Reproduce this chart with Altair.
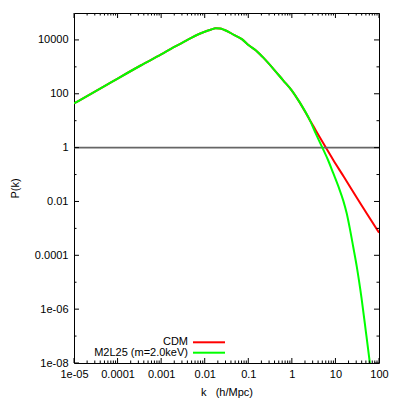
import altair as alt
import pandas as pd

# ---- values (log10 k, log10 P) ----
shared_logk = [-5.0, -4.24, -3.47, -3.0, -2.71, -2.5, -2.32, -2.13, -1.94, -1.85, -1.75, -1.65, -1.56,
               -1.33, -1.14, -0.99, -0.83, -0.72, -0.66, -0.41, -0.20, 0.0, 0.18, 0.41]
shared_logP = [1.64, 2.34, 3.05, 3.46, 3.73, 3.91, 4.07, 4.22, 4.34, 4.39, 4.43, 4.42, 4.38,
               4.19, 4.02, 3.80, 3.62, 3.45, 3.35, 2.90, 2.50, 2.12, 1.68, 1.03]
cdm_tail_logk = [0.55, 0.78, 0.95, 1.2, 1.52, 2.0]
cdm_tail_logP = [0.64, 0.0, -0.46, -1.1, -1.94, -3.16]
wdm_tail_logk = [0.55, 0.70, 0.83, 0.95, 1.07, 1.18, 1.26, 1.33, 1.41, 1.49, 1.60, 1.70, 1.79, 1.85]
wdm_tail_logP = [0.52, 0.0, -0.46, -0.95, -1.45, -1.97, -2.45, -3.0, -3.7, -4.42, -5.6, -6.85, -8.0, -8.8]

series = ["CDM", "M2L25 (m=2.0keV)"]
series_colors = ["#ff0000", "#00ff00"]

x_tick_values = [1e-05, 1e-04, 1e-03, 1e-02, 1e-01, 1, 10, 100]
x_tick_labels = ["1e-05", "0.0001", "0.001", "0.01", "0.1", "1", "10", "100"]
x_minor_mult = [2, 3, 4, 5, 6, 7, 8, 9]
y_tick_values = [1e-08, 1e-06, 1e-04, 1e-02, 1, 100, 10000]
y_tick_labels = ["1e-08", "1e-06", "0.0001", "0.01", "1", "100", "10000"]
y_minor_values = [1e-07, 1e-05, 1e-03, 1e-01, 10, 1000]

W, H = 305, 350
XDOM = [1e-05, 100]
YDOM = [1e-08, 1e05]

cdm = pd.DataFrame({
    "k": [10 ** v for v in shared_logk + cdm_tail_logk],
    "P": [10 ** v for v in shared_logP + cdm_tail_logP],
})
wdm = pd.DataFrame({
    "k": [10 ** v for v in shared_logk + wdm_tail_logk],
    "P": [10 ** v for v in shared_logP + wdm_tail_logP],
})

xs = alt.Scale(type="log", domain=XDOM, nice=False)
ys = alt.Scale(type="log", domain=YDOM, nice=False)


def js_list(vals):
    return "[" + ",".join(repr(v) if not isinstance(v, str) else "'" + v + "'" for v in vals) + "]"


x_label_expr = f"{js_list(x_tick_labels)}[indexof({js_list(x_tick_values)}, datum.value)]"
y_label_expr = f"{js_list(y_tick_labels)}[indexof({js_list(y_tick_values)}, datum.value)]"

x_axis = alt.Axis(values=x_tick_values, labelExpr=x_label_expr, title="k\u00a0\u00a0\u00a0(h/Mpc)",
                  labelPadding=5, titleBaseline="middle", titleY=29,
                  labelOverlap=False, labelFlush=False)
y_axis = alt.Axis(values=y_tick_values, labelExpr=y_label_expr, title="P(k)",
                  labelPadding=6, titleBaseline="middle", titleX=-59, titleY=H / 2,
                  labelOverlap=False, labelFlush=False)

red = alt.Chart(cdm).mark_line(color=series_colors[0], strokeWidth=2, clip=True,
                               interpolate="monotone").encode(
    x=alt.X("k:Q", scale=xs, axis=x_axis),
    y=alt.Y("P:Q", scale=ys, axis=y_axis),
    order="k:Q",
)
green = alt.Chart(wdm).mark_line(color=series_colors[1], strokeWidth=2, clip=True,
                                 interpolate="monotone").encode(
    x=alt.X("k:Q", scale=xs),
    y=alt.Y("P:Q", scale=ys),
    order="k:Q",
)

one = alt.Chart(pd.DataFrame({"P": [1]})).mark_rule(color="#666666", strokeWidth=1.6).encode(
    y=alt.Y("P:Q", scale=ys)
)

# tick marks (gnuplot style, inward on all four sides)
xmaj = pd.DataFrame({"k": x_tick_values})
xmin = pd.DataFrame({"k": [m * d for d in x_tick_values[:-1] for m in x_minor_mult]})
ymaj = pd.DataFrame({"P": y_tick_values})
ymin = pd.DataFrame({"P": y_minor_values})


def xticks(df, length):
    b = alt.Chart(df).mark_rule(color="black", strokeWidth=1).encode(
        x=alt.X("k:Q", scale=xs), y=alt.value(H), y2=alt.value(H - length))
    t = alt.Chart(df).mark_rule(color="black", strokeWidth=1).encode(
        x=alt.X("k:Q", scale=xs), y=alt.value(0), y2=alt.value(length))
    return [b, t]


def yticks(df, length):
    l = alt.Chart(df).mark_rule(color="black", strokeWidth=1).encode(
        y=alt.Y("P:Q", scale=ys), x=alt.value(0), x2=alt.value(length))
    r = alt.Chart(df).mark_rule(color="black", strokeWidth=1).encode(
        y=alt.Y("P:Q", scale=ys), x=alt.value(W), x2=alt.value(W - length))
    return [l, r]


ticks = xticks(xmaj, 5) + xticks(xmin, 2.5) + yticks(ymaj, 5) + yticks(ymin, 2.5)

# key (bottom left inside the plot)
leg_y = [329.3, 339.7]
legend_layers = []
for name, col, yy in zip(series, series_colors, leg_y):
    d = pd.DataFrame({"name": [name]})
    legend_layers.append(
        alt.Chart(d).mark_text(align="right", baseline="middle", fontSize=11,
                               font="Liberation Sans", color="black").encode(
            text="name:N", x=alt.value(114), y=alt.value(yy)))
    legend_layers.append(
        alt.Chart(d).mark_rule(color=col, strokeWidth=2).encode(
            x=alt.value(119), x2=alt.value(151), y=alt.value(yy)))

chart = alt.layer(red, one, green, *ticks, *legend_layers).properties(
    width=W, height=H,
    autosize=alt.AutoSizeParams(type="none"),
    padding={"left": 66, "top": 5, "right": 12, "bottom": 36},
).configure(font="Liberation Sans").configure_axis(
    labelFont="Liberation Sans", titleFont="Liberation Sans",
    labelFontSize=11, titleFontSize=11, titleFontWeight="normal",
    labelColor="black", titleColor="black",
    grid=False, domain=False, ticks=False,
).configure_view(stroke="black", strokeWidth=1)

chart.save("out.html", embed_options={"renderer": "svg", "actions": False})
